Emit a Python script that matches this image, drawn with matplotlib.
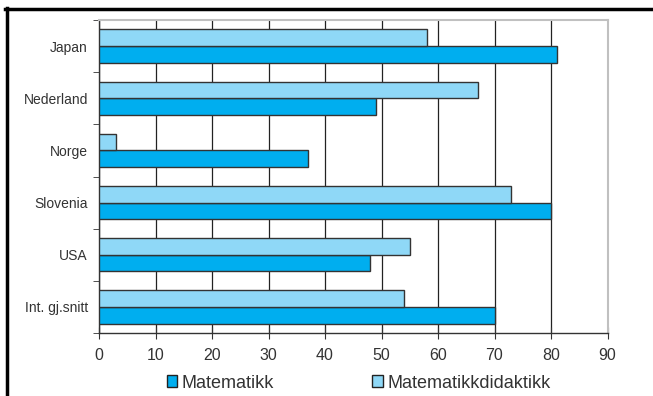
import matplotlib
matplotlib.use("Agg")
import matplotlib.pyplot as plt
from matplotlib.lines import Line2D
from matplotlib.patches import Patch
import numpy as np

categories = ["Japan", "Nederland", "Norge", "Slovenia", "USA", "Int. gj.snitt"]
matematikk = [81, 49, 37, 80, 48, 70]
didaktikk = [58, 67, 3, 73, 55, 54]
xticks = [0, 10, 20, 30, 40, 50, 60, 70, 80, 90]

plt.rcParams['font.family'] = ['Liberation Sans', 'DejaVu Sans']

c_mat = "#00AEEF"
c_did = "#8FD8F7"
edge = "#333333"
txt = "#333333"

fig = plt.figure(figsize=(6.53, 3.96), dpi=100)
ax = fig.add_axes([99/653, 1-333/396, (607.5-99)/653, (333-20)/396])

y = np.arange(len(categories))
h = 0.32
ax.barh(y + h/2, matematikk, height=h, color=c_mat, edgecolor=edge, linewidth=1.0, zorder=3)
ax.barh(y - h/2, didaktikk, height=h, color=c_did, edgecolor=edge, linewidth=1.0, zorder=3)

ax.set_ylim(len(categories) - 0.5, -0.5)
ax.set_xlim(0, 90)
ax.set_xticks(xticks)
ax.set_xticklabels([str(v) for v in xticks], fontsize=11.5, color=txt)
ax.set_yticks(y)
ax.set_yticklabels(categories, fontsize=10, color=txt)
ax.tick_params(axis='y', length=0, pad=8)
ax.set_yticks(np.arange(len(categories) + 1) - 0.5, minor=True)
ax.tick_params(axis='y', which='minor', length=4, direction='out', color='#333333')
ax.tick_params(axis='x', length=8, direction='inout', color='#333333', pad=7)

ax.xaxis.grid(True, color='#222222', linewidth=0.9, zorder=0)
ax.set_axisbelow(True)
for s in ['top', 'right']:
    ax.spines[s].set_color('#c0c0c0')
    ax.spines[s].set_linewidth(1.5)
for s in ['left', 'bottom']:
    ax.spines[s].set_color('#333333')
    ax.spines[s].set_linewidth(1.0)

handles = [Patch(facecolor=c_mat, edgecolor='#222222', linewidth=1.0, label='Matematikk'),
           Patch(facecolor=c_did, edgecolor='#222222', linewidth=1.0, label='Matematikkdidaktikk')]
fig.legend(handles=handles, loc='center', bbox_to_anchor=(0.549, 1-383/396), ncol=2,
           frameon=False, fontsize=13, handlelength=0.6, handleheight=0.6,
           handletextpad=0.25, columnspacing=5.4, labelcolor=txt)

# outer frame lines (left and top)
fig.add_artist(Line2D([6.5/653, 6.5/653], [0, 1-8/396], transform=fig.transFigure, color='black', linewidth=2.5))
fig.add_artist(Line2D([5/653, 1], [1-9/396, 1-9/396], transform=fig.transFigure, color='black', linewidth=2.5))

fig.savefig("out.png", dpi=100)
